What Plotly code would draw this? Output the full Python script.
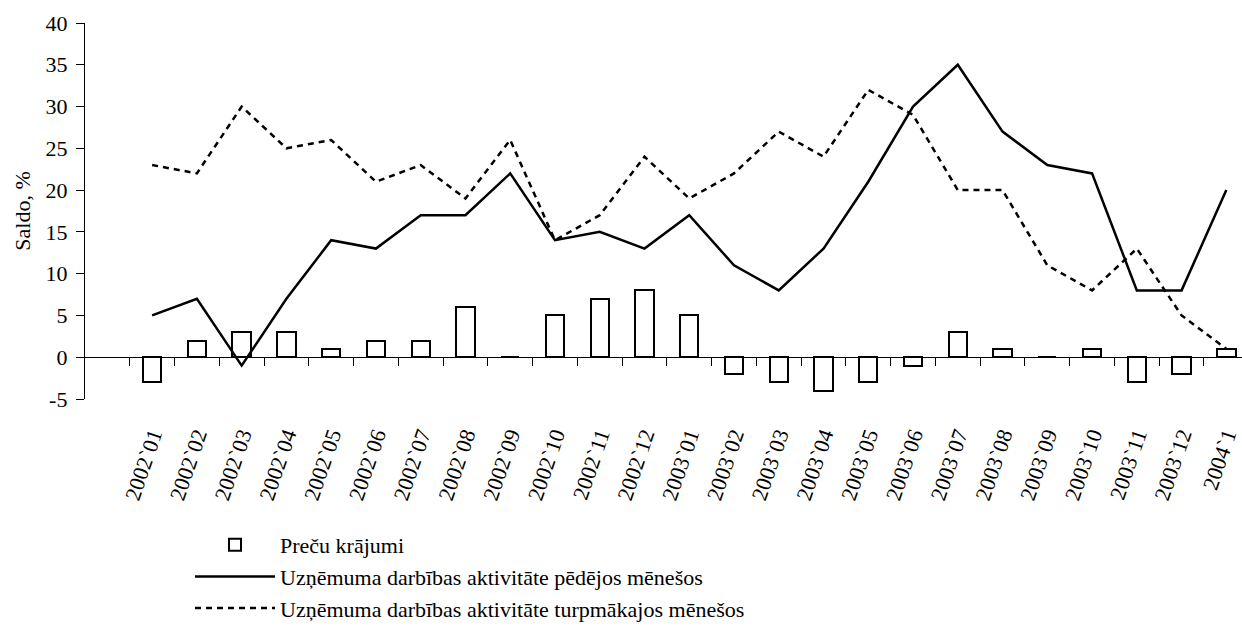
import plotly.graph_objects as go

months = ["2002`01", "2002`02", "2002`03", "2002`04", "2002`05", "2002`06",
          "2002`07", "2002`08", "2002`09", "2002`10", "2002`11", "2002`12",
          "2003`01", "2003`02", "2003`03", "2003`04", "2003`05", "2003`06",
          "2003`07", "2003`08", "2003`09", "2003`10", "2003`11", "2003`12",
          "2004`1"]
krajumi = [-3, 2, 3, 3, 1, 2, 2, 6, 0, 5, 7, 8, 5, -2, -3, -4, -3, -1, 3, 1, 0, 1, -3, -2, 1]
pedejos = [5, 7, -1, 7, 14, 13, 17, 17, 22, 14, 15, 13, 17, 11, 8, 13, 21, 30, 35, 27, 23, 22, 8, 8, 20]
turpmakajos = [23, 22, 30, 25, 26, 21, 23, 19, 26, 14, 17, 24, 19, 22, 27, 24, 32, 29, 20, 20, 11, 8, 13, 5, 1]
y_ticks = [-5, 0, 5, 10, 15, 20, 25, 30, 35, 40]
y_ticktext = ["-5", "0", "5", "10", "15", "20", "25", "30", "35", "40"]

names = ["Preču krājumi",
         "Uzņēmuma darbības aktivitāte pēdējos mēnešos",
         "Uzņēmuma darbības aktivitāte turpmākajos mēnešos"]

xi = list(range(len(months)))
FONT = "Liberation Serif"

fig = go.Figure()
fig.add_trace(go.Bar(x=xi, y=krajumi, name=names[0], width=0.41,
                     marker=dict(color="white", line=dict(color="black", width=2))))
fig.add_trace(go.Scatter(x=xi, y=pedejos, name=names[1], mode="lines",
                         line=dict(color="black", width=2.5)))
fig.add_trace(go.Scatter(x=xi, y=turpmakajos, name=names[2], mode="lines",
                         line=dict(color="black", width=2.5, dash="6px,5px")))
# helper trace so the zero-line axis is drawn
fig.add_trace(go.Scatter(x=[-1], y=[0], xaxis="x2", mode="markers",
                         marker=dict(opacity=0), showlegend=False, hoverinfo="skip"))

xr = [-1.5, 24.35]
bounds = [i - 0.5 for i in range(len(months))]

fig.update_layout(
    width=1242, height=626,
    margin=dict(l=85, r=0, t=23, b=227, autoexpand=False),
    paper_bgcolor="white", plot_bgcolor="white",
    font=dict(family=FONT, size=22, color="black"),
    showlegend=True,
    bargap=0,
    xaxis=dict(range=xr, tickmode="array", tickvals=xi, ticktext=months,
               tickangle=-71, ticks="", showline=False, showgrid=False,
               zeroline=False, automargin=False, ticklabelstandoff=18,
               tickfont=dict(family=FONT, size=22)),
    xaxis2=dict(range=xr, overlaying="x", anchor="free", position=5 / 45,
                side="bottom", showline=True, linecolor="black", linewidth=1.3,
                showgrid=False, zeroline=False, showticklabels=False,
                automargin=False,
                tickmode="array", tickvals=bounds, ticks="outside",
                ticklen=8, tickwidth=1, tickcolor="black"),
    yaxis=dict(range=[-5, 40], tickmode="array", tickvals=y_ticks, ticktext=y_ticktext,
               showline=True, linecolor="black", linewidth=1.3,
               ticks="outside", ticklen=8, tickwidth=1, tickcolor="black",
               showgrid=False, zeroline=False, automargin=False,
               ticklabelstandoff=4,
               tickfont=dict(family=FONT, size=22),
               title=dict(text="Saldo, %", font=dict(family=FONT, size=22), standoff=8)),
    legend=dict(x=(190 - 85) / 1157, y=(399 - 524) / 376, xanchor="left", yanchor="top",
                font=dict(family=FONT, size=22), itemwidth=80, tracegroupgap=0,
                bgcolor="rgba(0,0,0,0)", traceorder="normal"),
)

fig.write_html("out.html", config={"displayModeBar": False},
               post_script="document.body.style.margin='0px';document.body.style.overflow='hidden';")
